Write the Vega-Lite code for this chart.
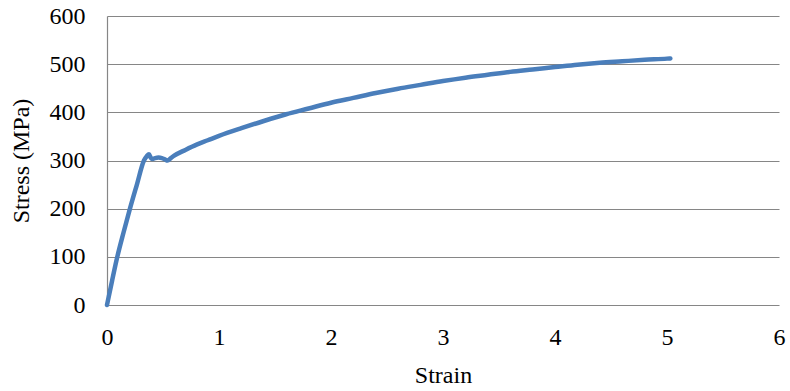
{
  "$schema": "https://vega.github.io/schema/vega-lite/v6.json",
  "width": 672,
  "height": 289,
  "autosize": {"type": "none"},
  "padding": {"left": 107, "top": 16, "right": 11, "bottom": 86},
  "background": "white",
  "config": {
    "view": {"stroke": null},
    "font": "Liberation Serif",
    "axis": {
      "labelFont": "Liberation Serif",
      "titleFont": "Liberation Serif",
      "labelFontSize": 24,
      "titleFontSize": 24,
      "labelColor": "#000000",
      "titleColor": "#000000",
      "titleFontWeight": "normal",
      "gridColor": "#868686",
      "gridWidth": 1.2,
      "gridOpacity": 1,
      "domainColor": "#868686",
      "domainWidth": 1.2,
      "ticks": false
    }
  },
  "data": {
    "values": [
      {"strain": 0, "stress": 0},
      {"strain": 0.045, "stress": 50},
      {"strain": 0.092, "stress": 100},
      {"strain": 0.147, "stress": 150},
      {"strain": 0.205, "stress": 200},
      {"strain": 0.267, "stress": 250},
      {"strain": 0.33, "stress": 300},
      {"strain": 0.355, "stress": 309},
      {"strain": 0.375, "stress": 313},
      {"strain": 0.39, "stress": 306},
      {"strain": 0.405, "stress": 303},
      {"strain": 0.43, "stress": 305},
      {"strain": 0.46, "stress": 306},
      {"strain": 0.49, "stress": 305},
      {"strain": 0.52, "stress": 302},
      {"strain": 0.54, "stress": 300},
      {"strain": 0.57, "stress": 305},
      {"strain": 0.6, "stress": 310},
      {"strain": 0.7, "stress": 322},
      {"strain": 0.8, "stress": 333},
      {"strain": 0.9, "stress": 342},
      {"strain": 1.0, "stress": 351},
      {"strain": 1.2, "stress": 367},
      {"strain": 1.4, "stress": 382},
      {"strain": 1.6, "stress": 396},
      {"strain": 1.8, "stress": 408},
      {"strain": 2.0, "stress": 420},
      {"strain": 2.2, "stress": 430},
      {"strain": 2.4, "stress": 440},
      {"strain": 2.6, "stress": 449},
      {"strain": 2.8, "stress": 457},
      {"strain": 3.0, "stress": 465},
      {"strain": 3.2, "stress": 472},
      {"strain": 3.4, "stress": 478},
      {"strain": 3.6, "stress": 484},
      {"strain": 3.8, "stress": 489},
      {"strain": 4.0, "stress": 494},
      {"strain": 4.2, "stress": 499},
      {"strain": 4.4, "stress": 503},
      {"strain": 4.6, "stress": 506},
      {"strain": 4.8, "stress": 509},
      {"strain": 5.0, "stress": 511.5},
      {"strain": 5.03, "stress": 512}
    ]
  },
  "mark": {"type": "line", "color": "#4a7ebb", "strokeWidth": 4.5, "strokeCap": "round", "strokeJoin": "round", "interpolate": "monotone"},
  "encoding": {
    "x": {
      "field": "strain", "type": "quantitative", "title": "Strain",
      "scale": {"domain": [0, 6], "nice": false, "zero": true},
      "axis": {"values": [0, 1, 2, 3, 4, 5, 6], "grid": false, "domain": false, "labelPadding": 20, "titlePadding": 14, "labelFlush": false}
    },
    "y": {
      "field": "stress", "type": "quantitative", "title": "Stress (MPa)",
      "scale": {"domain": [0, 600], "nice": false},
      "axis": {"values": [0, 100, 200, 300, 400, 500, 600], "grid": true, "domain": true, "labelPadding": 22, "titlePadding": 16, "labelFlush": false}
    },
    "order": {"field": "strain", "type": "quantitative"}
  }
}
